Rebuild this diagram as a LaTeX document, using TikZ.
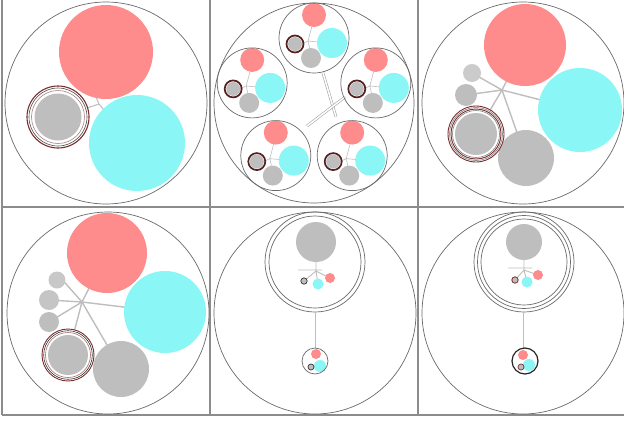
\documentclass[tikz,border=0pt]{standalone}
\definecolor{salmon}{HTML}{FF8C8C}
\definecolor{aqua}{HTML}{8AF6F6}
\definecolor{stone}{HTML}{BEBEBE}
\definecolor{rim}{HTML}{6A6A6A}
\definecolor{rust}{HTML}{7A2E2E}
\begin{document}
\begin{tikzpicture}[x=1pt, y=-1pt,
  rimline/.style={draw=rim, line width=0.7pt},
  frame/.style={draw=black!45, line width=1.2pt},
  branch/.style={draw=stone, line width=1.4pt},
  ringed/.style={rust, line width=0.9pt}]
  \useasboundingbox[fill=white] (0,0) rectangle (624,421);

  % Panel frames
  \draw[frame] (2,0) -- (2,415);
  \draw[frame] (210,0) -- (210,415);
  \draw[frame] (418,0) -- (418,415);
  \draw[frame] (2,207) -- (624,207);
  \draw[frame] (2,415) -- (624,415);

  % Panel 1: three balls
  \draw[branch, line width=1pt] (87,108) -- (99,104) -- (96,97) (99,104) -- (104,110);
  \fill[salmon] (106,52) circle (47pt);
  \fill[aqua] (137,143) circle (48pt);
  \fill[stone] (58,117) circle (23.5pt);
  \draw[ringed, line width=1.1pt] (58,117) circle (31pt);
  \draw[black!70, line width=0.6pt] (58,117) circle (29pt);
  \draw[rust!60, line width=0.6pt] (58,117) circle (26.5pt);
  \draw[rimline] (106,103) circle (101pt);

  % Panel 2: five copies on a ring
  \draw[gray!70, line width=0.6pt, double, double distance=1.5pt] (323,73) -- (336,117);
  \draw[gray!70, line width=0.6pt, double, double distance=1.5pt] (307,126) -- (345,97);
  \foreach \a in {90,162,234,306,18} {
    \begin{scope}[shift={({314+65*cos(\a)},{103-65*sin(\a)})}]
      \draw[branch, line width=0.6pt] (-12,6) -- (-6,3) -- (-2,-12) (-6,3) -- (4,4) (-6,3) -- (-4,12);
      \fill[salmon] (0,-23) circle (12pt);
      \fill[aqua] (18,5) circle (15pt);
      \fill[stone] (-3,20) circle (10pt);
      \fill[stone] (-19,6) circle (7pt);
      \draw[rust!70!black, line width=1.7pt] (-19,6) circle (8.5pt);
      \draw[rimline] (0,0) circle (35pt);
    \end{scope}
  }
  \draw[rimline] (314,103) circle (100pt);

  % Panel 3: hub with six branches
  \foreach \x/\y in {525/45, 580/110, 526/158, 472/73, 466/95, 476/134} {
    \draw[branch] (502,90) -- (\x,\y);
  }
  \fill[salmon] (525,45) circle (41pt);
  \fill[aqua] (580,110) circle (42pt);
  \fill[stone] (526,158) circle (28pt);
  \fill[stone!80] (472,73) circle (9pt);
  \fill[stone] (466,95) circle (11pt);
  \fill[white] (476,134) circle (28pt);
  \fill[stone] (476,134) circle (21pt);
  \foreach \r in {28,25} {
    \draw[ringed] (476,134) circle (\r pt);
  }
  \foreach \r in {26.5,23.5} {
    \draw[gray, line width=0.6pt] (476,134) circle (\r pt);
  }
  \draw[rimline] (523,103) circle (101pt);

  % Panel 4: hub with seven branches
  \foreach \x/\y in {107/253, 165/312, 121/369, 68/355, 59/276, 49/300, 49/322} {
    \draw[branch] (82,302) -- (\x,\y);
  }
  \fill[salmon] (107,253) circle (40pt);
  \fill[aqua] (165,312) circle (41pt);
  \fill[stone] (121,369) circle (28pt);
  \fill[stone!85] (57,280) circle (8.5pt);
  \fill[stone!90] (49,300) circle (10pt);
  \fill[stone] (49,322) circle (10pt);
  \fill[white] (68,355) circle (26pt);
  \fill[stone] (68,355) circle (20pt);
  \draw[ringed] (68,355) circle (26pt);
  \draw[black!80, line width=0.6pt] (68,355) circle (24.3pt);
  \draw[rust!70, line width=0.6pt] (68,355) circle (22.5pt);
  \draw[rimline] (108,313) circle (101pt);

  % Panel 5: nested, double ring
  \draw[branch, line width=0.9pt] (316,258) -- (316,271) (298,270) -- (322,270)
    (316,271) -- (304,281) (316,271) -- (330,278) (316,271) -- (318,284);
  \fill[stone] (316,242) circle (20pt);
  \fill[salmon] (330,278) circle (5pt);
  \fill[aqua] (318,284) circle (5.5pt);
  \draw[black!80, fill=stone, line width=0.7pt] (304,281) circle (3.2pt);
  \draw[rimline] (315,262) circle (50pt);
  \draw[rimline] (315,262) circle (46pt);
  \draw[branch, line width=1pt] (315,312) -- (315,348);
  \fill[salmon] (316,354) circle (5pt);
  \fill[aqua] (320,366) circle (6pt);
  \draw[black!80, fill=stone, line width=0.7pt] (311,367) circle (3pt);
  \draw[rimline] (315,361) circle (13pt);
  \draw[rimline] (315,313) circle (101pt);

  % Panel 6: nested, triple ring
  \draw[branch, line width=0.9pt] (524,256) -- (524,270) (508,268) -- (532,268)
    (524,270) -- (515,280) (524,270) -- (538,275) (524,270) -- (527,282);
  \fill[stone] (524,242) circle (18pt);
  \fill[salmon] (538,275) circle (5pt);
  \fill[aqua] (527,282) circle (5.5pt);
  \draw[rust, fill=stone, line width=0.8pt] (515,280) circle (3.2pt);
  \foreach \r in {50,46.5,43} {
    \draw[rimline] (524,262) circle (\r pt);
  }
  \draw[branch, line width=1pt] (523,312) -- (523,349);
  \fill[salmon] (523,355) circle (5pt);
  \fill[aqua] (529,365) circle (6pt);
  \draw[rust, fill=stone, line width=0.7pt] (521,367) circle (3pt);
  \draw[black!85, line width=1.2pt] (525,361) circle (13pt);
  \draw[rimline] (523,313) circle (101pt);
\end{tikzpicture}
\end{document}
